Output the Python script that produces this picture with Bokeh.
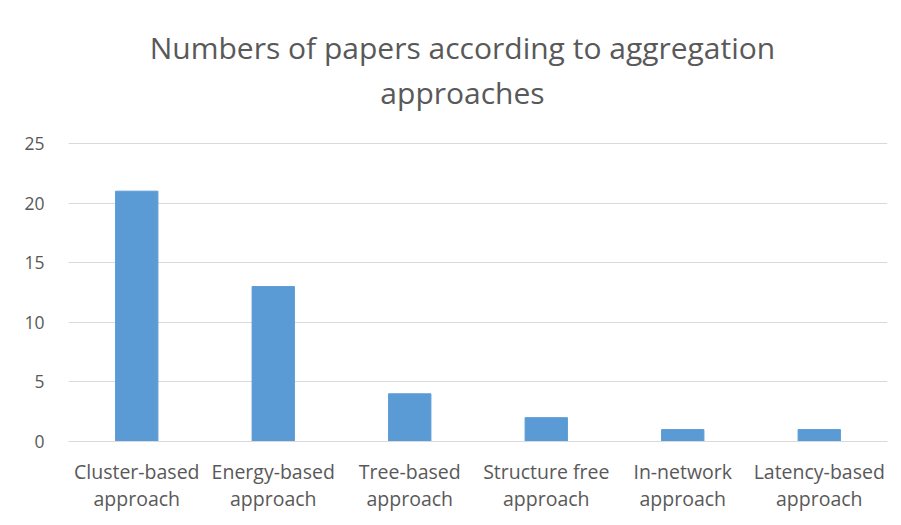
from bokeh.plotting import figure
from bokeh.models import Range1d, FixedTicker, Label, ColumnDataSource
from bokeh.embed import file_html
from bokeh.resources import INLINE

title_lines = ["Numbers of papers according to aggregation", "approaches"]
categories = ["Cluster-based\napproach", "Energy-based\napproach", "Tree-based\napproach",
              "Structure free\napproach", "In-network\napproach", "Latency-based\napproach"]
values = [21, 13, 4, 2, 1, 1]
y_ticks = [0, 5, 10, 15, 20, 25]

positions = [i + 0.5 for i in range(len(categories))]
src = ColumnDataSource(dict(x=positions, top=values))

FONT = "Open Sans"
GREY = "#595959"

# pixel layout: value axis 0..25 spans 298px; frame reaches to the top of the canvas
PX_PER_UNIT = 298 / 25
FRAME_H = 441
y_top = FRAME_H / PX_PER_UNIT

p = figure(width=893, height=517, output_backend="svg", toolbar_location=None,
           x_range=Range1d(0, len(categories)), y_range=Range1d(0, y_top),
           min_border_left=68, min_border_right=6, min_border_top=0, min_border_bottom=76)
p.title = None
p.outline_line_color = None

p.vbar(x="x", top="top", width=0.31, bottom=0, source=src,
       fill_color="#5B9BD5", line_color="#5B9BD5")

# title lines placed in the empty band above the value range
for txt, ypx in zip(title_lines, [47, 92]):
    p.add_layout(Label(x=(462 - 68) / 819 * len(categories), y=(FRAME_H - ypx) / PX_PER_UNIT,
                       text=txt, text_align="center", text_baseline="alphabetic",
                       text_font=FONT, text_font_size="30px", text_color=GREY))

p.xaxis.ticker = FixedTicker(ticks=positions)
p.xaxis.major_label_overrides = {pos: lab for pos, lab in zip(positions, categories)}
p.xaxis.major_label_text_font = FONT
p.xaxis.major_label_text_font_size = "19.5px"
p.xaxis.major_label_text_color = GREY
p.xaxis.major_label_text_line_height = 1.0
p.xaxis.axis_line_color = "#D9D9D9"
p.xaxis.major_tick_line_color = None
p.xaxis.minor_tick_line_color = None
p.xaxis.major_label_standoff = 10

p.yaxis.ticker = FixedTicker(ticks=y_ticks)
p.yaxis.major_label_text_font = FONT
p.yaxis.major_label_text_font_size = "17.5px"
p.yaxis.major_label_text_color = GREY
p.yaxis.axis_line_color = None
p.yaxis.major_tick_line_color = None
p.yaxis.minor_tick_line_color = None
p.yaxis.major_label_standoff = 18

p.xgrid.grid_line_color = None
p.ygrid.grid_line_color = "#D9D9D9"
p.ygrid.ticker = FixedTicker(ticks=y_ticks)

open("out.html", "w").write(file_html(p, INLINE))
